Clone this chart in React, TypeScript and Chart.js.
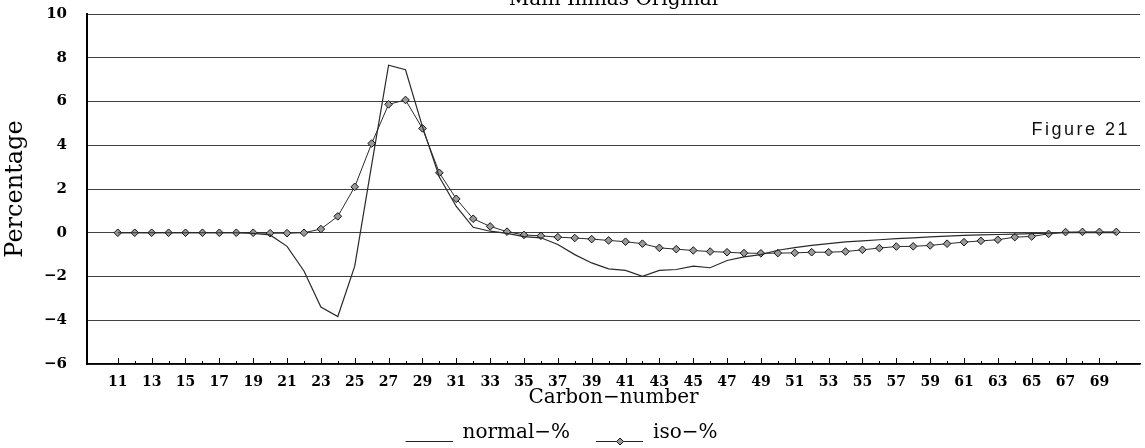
import React, { useEffect, useRef } from 'react';
import { Chart, registerables } from 'chart.js';

Chart.register(...registerables);

const carbonNumbers = [
  11, 12, 13, 14, 15, 16, 17, 18, 19, 20, 21, 22, 23, 24, 25, 26, 27, 28, 29, 30,
  31, 32, 33, 34, 35, 36, 37, 38, 39, 40, 41, 42, 43, 44, 45, 46, 47, 48, 49, 50,
  51, 52, 53, 54, 55, 56, 57, 58, 59, 60, 61, 62, 63, 64, 65, 66, 67, 68, 69, 70,
];

const normalPct = [
  0, 0, 0, 0, 0, 0, 0, 0, -0.03, -0.1, -0.62, -1.75, -3.4, -3.83, -1.53, 3.1, 7.66, 7.45, 4.85, 2.55,
  1.2, 0.25, 0.07, -0.03, -0.18, -0.23, -0.54, -1.0, -1.38, -1.65, -1.72, -1.99, -1.72, -1.68, -1.53, -1.6, -1.27, -1.1, -1.0, -0.8,
  -0.68, -0.58, -0.5, -0.42, -0.37, -0.32, -0.27, -0.23, -0.19, -0.15, -0.12, -0.1, -0.08, -0.06, -0.04, -0.02, 0, 0, 0, 0,
];

const isoPct = [
  0, 0, 0, 0, 0, 0, 0, 0, 0, -0.02, -0.02, 0, 0.17, 0.75, 2.1, 4.08, 5.87, 6.07, 4.77, 2.74,
  1.55, 0.64, 0.29, 0.05, -0.1, -0.14, -0.2, -0.24, -0.29, -0.35, -0.41, -0.5, -0.69, -0.75, -0.81, -0.86, -0.89, -0.93, -0.94, -0.93,
  -0.92, -0.89, -0.89, -0.86, -0.78, -0.7, -0.63, -0.62, -0.58, -0.5, -0.43, -0.37, -0.32, -0.2, -0.17, -0.05, 0.03, 0.04, 0.04, 0.04,
];

const yTickValues = [-6, -4, -2, 0, 2, 4, 6, 8, 10];
const seriesLabels = ['normal\u2212%', 'iso\u2212%'];
const chartTitle = 'Main Illinas Original';
const xTitle = 'Carbon\u2212number';
const yTitle = 'Percentage';
const figureLabel = 'Figure 21';

const SERIF = "'DejaVu Serif', 'Liberation Serif', serif";
const SHIFT = 35; // canvas starts this far left of the page edge

function makeLegendSymbol(withMarker: boolean): HTMLCanvasElement {
  const c = document.createElement('canvas');
  c.width = 60;
  c.height = 26;
  const g = c.getContext('2d')!;
  g.strokeStyle = '#222';
  g.lineWidth = 1;
  g.beginPath();
  g.moveTo(13, 21.5);
  g.lineTo(60, 21.5);
  g.stroke();
  if (withMarker) {
    const cx = 37;
    const cy = 21.5;
    const r = 3.5;
    g.beginPath();
    g.moveTo(cx, cy - r);
    g.lineTo(cx + r, cy);
    g.lineTo(cx, cy + r);
    g.lineTo(cx - r, cy);
    g.closePath();
    g.fillStyle = '#9a9a9a';
    g.fill();
    g.strokeStyle = '#111';
    g.stroke();
  }
  return c;
}

const insideTicks = {
  id: 'insideTicks',
  afterDatasetsDraw(chart: any) {
    const xs = chart.scales.x;
    const { ctx, chartArea } = chart;
    ctx.save();
    ctx.strokeStyle = '#000';
    ctx.lineWidth = 1;
    carbonNumbers.forEach((v) => {
      const px = Math.round(xs.getPixelForValue(v)) + 0.5;
      const len = v % 2 === 1 ? 6 : 3;
      ctx.beginPath();
      ctx.moveTo(px, chartArea.bottom);
      ctx.lineTo(px, chartArea.bottom - len);
      ctx.stroke();
    });
    ctx.restore();
  },
};

const figureText = {
  id: 'figureText',
  afterDatasetsDraw(chart: any) {
    const { ctx, chartArea } = chart;
    const ys = chart.scales.y;
    ctx.save();
    ctx.fillStyle = '#111';
    ctx.font = "18px 'Liberation Sans', Arial, sans-serif";
    (ctx as any).letterSpacing = '2.5px';
    ctx.textAlign = 'right';
    ctx.textBaseline = 'middle';
    ctx.fillText(figureLabel, chartArea.right - 10, ys.getPixelForValue(4.7));
    ctx.restore();
  },
};

export default function App() {
  const ref = useRef<HTMLCanvasElement>(null);

  useEffect(() => {
    const symbols = [makeLegendSymbol(false), makeLegendSymbol(true)];
    const chart = new Chart(ref.current!, {
      type: 'line',
      data: {
        datasets: [
          {
            label: seriesLabels[0],
            data: carbonNumbers.map((c, i) => ({ x: c, y: normalPct[i] })),
            borderColor: '#2a2a2a',
            borderWidth: 1.2,
            pointRadius: 0,
            tension: 0,
          },
          {
            label: seriesLabels[1],
            data: carbonNumbers.map((c, i) => ({ x: c, y: isoPct[i] })),
            borderColor: '#2a2a2a',
            borderWidth: 1,
            pointStyle: 'rectRot',
            pointRadius: 3.8,
            pointBackgroundColor: '#9a9a9a',
            pointBorderColor: '#111',
            pointBorderWidth: 1,
            tension: 0,
          },
        ],
      },
      options: {
        responsive: false,
        animation: false,
        layout: { padding: 0 },
        plugins: {
          title: {
            display: true,
            text: chartTitle,
            fullSize: false,
            color: '#000',
            font: { family: SERIF, size: 20, weight: 'normal' },
            padding: { top: 4, bottom: 2 },
          },
          legend: {
            display: true,
            position: 'bottom',
            labels: {
              usePointStyle: true,
              pointStyleWidth: 60,
              padding: 13,
              color: '#000',
              font: { family: SERIF, size: 20 },
              generateLabels: (ch: any) =>
                ch.data.datasets.map((ds: any, i: number) => ({
                  text: ds.label,
                  pointStyle: symbols[i],
                  fillStyle: 'transparent',
                  strokeStyle: 'transparent',
                  lineWidth: 0,
                  hidden: false,
                  datasetIndex: i,
                  fontColor: '#000',
                })),
            },
          },
          tooltip: { enabled: false },
        },
        scales: {
          x: {
            type: 'linear',
            min: 9.18,
            max: 71.4,
            afterFit: (s: any) => {
              s.height = 46;
            },
            ticks: {
              stepSize: 1,
              autoSkip: false,
              maxRotation: 0,
              includeBounds: false,
              padding: 10,
              color: '#000',
              font: { family: SERIF, size: 14, weight: 'bold' },
              callback: (v: any) => (Number.isInteger(v) && v % 2 === 1 && v >= carbonNumbers[0] && v <= carbonNumbers[carbonNumbers.length - 1] ? String(v) : ''),
            },
            grid: { display: true, drawOnChartArea: false, drawTicks: false },
            border: { display: true, color: '#000', width: 1.5 },
            title: {
              display: true,
              text: xTitle,
              color: '#000',
              font: { family: SERIF, size: 20 },
              padding: { top: 0, bottom: 0 },
            },
          },
          y: {
            min: -6,
            max: 10,
            afterFit: (s: any) => {
              s.width = 87 + SHIFT;
            },
            afterBuildTicks: (s: any) => {
              s.ticks = yTickValues.map((v) => ({ value: v }));
            },
            ticks: {
              padding: 20,
              color: '#000',
              font: { family: SERIF, size: 15, weight: 'bold' },
              callback: (v: any) => (v < 0 ? '\u2212' + Math.abs(v) : String(v)),
            },
            grid: { color: '#404040', lineWidth: 1, drawTicks: false },
            border: { display: true, color: '#000', width: 2 },
            title: {
              display: true,
              text: yTitle,
              color: '#000',
              font: { family: SERIF, size: 24 },
              padding: { top: SHIFT + 1, bottom: 0 },
            },
          },
        },
      },
      plugins: [insideTicks, figureText],
    } as any);
    return () => chart.destroy();
  }, []);

  const w = 1145 + SHIFT;
  return (
    <div style={{ position: 'fixed', left: -SHIFT, top: -16, width: w, height: 469 }}>
      <canvas ref={ref} width={w} height={469} style={{ display: 'block', width: w, height: 469 }} />
    </div>
  );
}
